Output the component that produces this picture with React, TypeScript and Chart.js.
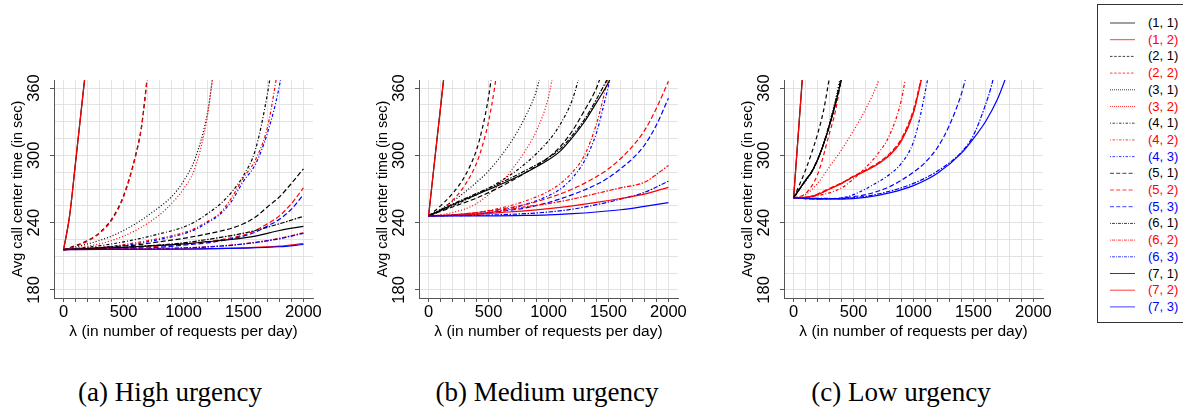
import React, { useEffect, useRef } from 'react';
import { Chart, registerables } from 'chart.js';

Chart.register(...registerables);
Chart.defaults.font.family = '"Liberation Sans", Arial, sans-serif';

// ---- labels / ticks ----
const SERIES_LABELS = ['(1, 1)', '(1, 2)', '(2, 1)', '(2, 2)', '(3, 1)', '(3, 2)', '(4, 1)', '(4, 2)', '(4, 3)', '(5, 1)', '(5, 2)', '(5, 3)', '(6, 1)', '(6, 2)', '(6, 3)', '(7, 1)', '(7, 2)', '(7, 3)'];
const SERIES_LTY = [1, 1, 2, 2, 3, 3, 4, 4, 4, 5, 5, 5, 6, 6, 6, 1, 1, 1];
const SERIES_COL = [1, 2, 1, 2, 1, 2, 1, 2, 3, 1, 2, 3, 1, 2, 3, 1, 2, 3];
const Y_TICKS = [180, 240, 300, 360];
const X_LABEL_STEP = 500;
const CAPTIONS = ['(a) High urgency', '(b) Medium urgency', '(c) Low urgency'];
const X_TITLE = 'λ (in number of requests per day)';
const Y_TITLE = 'Avg call center time (in sec)';

// ---- (a) High urgency: [lambda, seconds] ----
const HIGH_1_1 = [[0, 216], [50, 246], [100, 294], [150, 343], [200, 392]];
const HIGH_1_2 = [[0, 216], [50, 246], [100, 294], [150, 343], [200, 392]];
const HIGH_2_1 = [[0, 216], [100, 219.5], [200, 224], [300, 231], [400, 243], [500, 264], [600, 300], [650, 326], [700, 372]];
const HIGH_2_2 = [[0, 216], [100, 219], [200, 223.5], [300, 230.5], [400, 242], [500, 263], [600, 299], [650, 325], [700, 371]];
const HIGH_3_1 = [[0, 216], [200, 221], [400, 228], [600, 239], [800, 254], [900, 263], [1000, 277], [1100, 298], [1200, 338], [1250, 375]];
const HIGH_3_2 = [[0, 216], [200, 219], [400, 224], [600, 233], [800, 247], [900, 257], [1000, 270], [1100, 290], [1200, 335], [1250, 375]];
const HIGH_4_1 = [[0, 216], [200, 218], [400, 221], [600, 225], [800, 230], [1000, 236], [1100, 241], [1200, 248], [1300, 256], [1400, 267], [1500, 282], [1600, 305], [1700, 355], [1750, 390]];
const HIGH_4_2 = [[0, 216], [200, 217], [400, 219], [600, 222], [800, 226], [1000, 231], [1100, 235], [1200, 241], [1300, 248], [1400, 262], [1500, 280], [1600, 296], [1700, 325], [1800, 385]];
const HIGH_4_3 = [[0, 216], [200, 217], [400, 218.5], [600, 221], [800, 225], [1000, 230], [1100, 234], [1200, 240], [1300, 247], [1400, 259], [1500, 277], [1600, 292], [1700, 320], [1800, 362], [1850, 395]];
const HIGH_5_1 = [[0, 216], [200, 217], [400, 218.5], [600, 220], [800, 223], [1000, 226], [1200, 230], [1400, 235], [1500, 239], [1600, 245], [1700, 254], [1800, 263], [1900, 275], [2000, 288]];
const HIGH_5_2 = [[0, 216], [400, 217], [800, 219], [1000, 221], [1200, 223], [1400, 226.5], [1500, 229], [1600, 233], [1700, 239], [1800, 246], [1900, 257], [2000, 271]];
const HIGH_5_3 = [[0, 216], [400, 216.5], [800, 218], [1000, 220], [1200, 222], [1400, 225.5], [1500, 228], [1600, 231.5], [1700, 237], [1800, 243], [1900, 252], [2000, 265]];
const HIGH_6_1 = [[0, 216], [500, 218], [1000, 222], [1200, 225], [1400, 228.5], [1600, 233], [1800, 239], [2000, 245.6]];
const HIGH_6_2 = [[0, 216], [1000, 217.5], [1200, 218.5], [1400, 220], [1600, 222.5], [1800, 226], [2000, 231]];
const HIGH_6_3 = [[0, 216], [1000, 217.3], [1200, 218.3], [1400, 219.8], [1600, 222.2], [1800, 225.6], [2000, 230.5]];
const HIGH_7_1 = [[0, 216], [500, 218], [1000, 221], [1200, 223], [1400, 225], [1600, 228], [1800, 233], [2000, 236.7]];
const HIGH_7_2 = [[0, 216], [1000, 216.5], [1500, 217.5], [1800, 219], [2000, 221.3]];
const HIGH_7_3 = [[0, 216], [1000, 216.3], [1500, 217.2], [1800, 218.5], [2000, 220.5]];

// ---- (b) Medium urgency ----
const MED_1_1 = [[0, 246], [50, 295], [100, 343], [150, 392]];
const MED_1_2 = [[0, 246], [50, 295], [100, 343], [150, 392]];
const MED_2_1 = [[0, 246], [100, 255], [200, 266], [300, 281], [400, 305], [450, 325], [500, 352], [550, 390]];
const MED_2_2 = [[0, 246], [100, 251], [200, 260], [300, 273], [400, 293], [450, 309], [500, 330], [550, 360], [600, 400]];
const MED_3_1 = [[0, 246], [100, 252], [200, 259], [300, 267], [400, 276], [500, 286], [600, 299], [700, 314], [800, 333], [900, 358], [950, 380]];
const MED_3_2 = [[0, 246], [100, 247], [200, 249], [300, 252], [400, 257], [500, 265], [600, 275], [700, 288], [800, 303], [900, 322], [1000, 352], [1050, 380]];
const MED_4_1 = [[0, 246], [200, 255], [400, 265], [600, 277], [800, 292], [1000, 313], [1100, 328], [1200, 350], [1250, 368], [1300, 390]];
const MED_4_2 = [[0, 246], [200, 247], [400, 249], [600, 253], [800, 259], [1000, 268], [1100, 275], [1200, 285], [1300, 300], [1400, 328], [1450, 348], [1500, 372]];
const MED_4_3 = [[0, 246], [200, 246.5], [400, 248], [600, 251], [800, 256], [1000, 264], [1100, 270], [1200, 280], [1300, 295], [1400, 320], [1450, 340], [1500, 362], [1550, 385]];
const MED_5_1 = [[0, 246], [200, 254], [400, 262], [600, 272], [800, 284], [1000, 298], [1100, 308], [1200, 322], [1300, 340], [1400, 360], [1450, 375]];
const MED_5_2 = [[0, 246], [200, 247], [400, 249], [600, 252], [800, 256], [1000, 262], [1200, 270], [1400, 281], [1500, 288], [1600, 297], [1700, 308], [1800, 322], [1900, 342], [2000, 366]];
const MED_5_3 = [[0, 246], [400, 247.5], [600, 250], [800, 253], [1000, 258], [1200, 265], [1400, 274], [1500, 280], [1600, 288], [1700, 297], [1800, 309], [1900, 327], [2000, 351]];
const MED_6_1 = [[0, 246], [200, 256.5], [400, 266], [600, 275.5], [800, 286], [1000, 298], [1100, 306], [1200, 318], [1300, 332], [1400, 350], [1500, 370]];
const MED_6_2 = [[0, 246], [200, 246.5], [400, 248], [600, 250.5], [800, 254], [1000, 257], [1200, 261], [1400, 266], [1600, 271], [1800, 276], [1900, 283], [2000, 291]];
const MED_6_3 = [[0, 246], [400, 246.5], [800, 248], [1000, 249.5], [1200, 252], [1400, 256], [1600, 261], [1800, 267], [2000, 277]];
const MED_7_1 = [[0, 246], [200, 256], [400, 265], [600, 274], [800, 284], [1000, 296], [1100, 304], [1200, 316], [1300, 330], [1400, 347], [1500, 365], [1550, 377]];
const MED_7_2 = [[0, 246], [200, 246.5], [400, 247.5], [600, 249], [800, 250.5], [1000, 252.5], [1200, 255], [1400, 258], [1600, 261.5], [1800, 265.5], [2000, 271.5]];
const MED_7_3 = [[0, 246], [400, 246], [800, 246.5], [1000, 247], [1200, 248], [1400, 249.5], [1600, 251.5], [1800, 254.5], [2000, 257.8]];

// ---- (c) Low urgency ----
const LOW_1_1 = [[0, 262], [50, 335], [100, 408]];
const LOW_1_2 = [[0, 262], [50, 335], [100, 408]];
const LOW_2_1 = [[0, 262], [50, 274], [100, 287], [150, 302], [200, 319], [250, 340], [300, 370]];
const LOW_2_2 = [[0, 262], [100, 266], [200, 283], [300, 320], [350, 340], [400, 370]];
const LOW_3_1 = [[0, 262], [50, 270], [100, 277], [150, 285], [200, 296], [250, 311], [300, 329], [350, 350], [400, 375]];
const LOW_3_2 = [[0, 262], [100, 265], [200, 275], [300, 290], [400, 305], [500, 322], [600, 341], [700, 364], [750, 380]];
const LOW_4_1 = [[0, 262], [50, 270], [100, 277.5], [150, 285], [200, 296], [250, 310.5], [300, 328], [350, 348], [400, 371]];
const LOW_4_2 = [[0, 262], [200, 264], [400, 271], [500, 279], [600, 289], [700, 301], [800, 318], [900, 350], [950, 380]];
const LOW_4_3 = [[0, 262], [200, 261], [400, 262], [500, 265], [600, 270], [700, 276], [800, 283], [900, 293], [1000, 312], [1050, 332], [1100, 358], [1150, 385]];
const LOW_5_1 = [[0, 262], [50, 270], [100, 278], [150, 285.5], [200, 296.5], [250, 310], [300, 327.5], [350, 347], [400, 369]];
const LOW_5_2 = [[0, 262], [100, 262.5], [200, 265.5], [300, 270.5], [400, 275.5], [500, 281.5], [600, 287], [700, 293], [800, 301.5], [900, 315], [1000, 341], [1050, 362], [1100, 387]];
const LOW_5_3 = [[0, 262], [200, 261], [400, 262], [600, 265], [800, 272], [1000, 285], [1100, 294], [1200, 307], [1300, 327], [1400, 355], [1450, 375]];
const LOW_6_1 = [[0, 262], [50, 270], [100, 278], [150, 285], [200, 296], [250, 310], [300, 327], [350, 346.5], [400, 368.5]];
const LOW_6_2 = [[0, 262], [100, 262.5], [200, 265], [300, 270], [400, 275], [500, 281], [600, 286.5], [700, 292.5], [800, 300.5], [900, 314], [1000, 339], [1050, 361], [1100, 386]];
const LOW_6_3 = [[0, 262], [400, 261.5], [600, 263.5], [800, 268], [1000, 275], [1200, 286], [1400, 303], [1500, 318], [1600, 345], [1650, 362], [1700, 385]];
const LOW_7_1 = [[0, 262], [50, 270], [100, 278], [150, 285], [200, 296], [250, 310], [300, 327], [350, 346], [400, 368]];
const LOW_7_2 = [[0, 262], [100, 262.5], [200, 265], [300, 270], [400, 275], [500, 281], [600, 286], [700, 292], [800, 300], [900, 313], [1000, 338], [1050, 360], [1100, 385]];
const LOW_7_3 = [[0, 262], [400, 261], [600, 262.5], [800, 266.5], [1000, 273], [1200, 284], [1400, 302], [1500, 315], [1600, 330], [1700, 350], [1800, 378]];

const HIGH = [HIGH_1_1, HIGH_1_2, HIGH_2_1, HIGH_2_2, HIGH_3_1, HIGH_3_2, HIGH_4_1, HIGH_4_2, HIGH_4_3, HIGH_5_1, HIGH_5_2, HIGH_5_3, HIGH_6_1, HIGH_6_2, HIGH_6_3, HIGH_7_1, HIGH_7_2, HIGH_7_3];
const MED = [MED_1_1, MED_1_2, MED_2_1, MED_2_2, MED_3_1, MED_3_2, MED_4_1, MED_4_2, MED_4_3, MED_5_1, MED_5_2, MED_5_3, MED_6_1, MED_6_2, MED_6_3, MED_7_1, MED_7_2, MED_7_3];
const LOW = [LOW_1_1, LOW_1_2, LOW_2_1, LOW_2_2, LOW_3_1, LOW_3_2, LOW_4_1, LOW_4_2, LOW_4_3, LOW_5_1, LOW_5_2, LOW_5_3, LOW_6_1, LOW_6_2, LOW_6_3, LOW_7_1, LOW_7_2, LOW_7_3];

// ---- styles ----
const COLORS: Record<number, string> = { 1: '#000000', 2: '#ff0000', 3: '#0000ff' };
const PLOT_DASH: Record<number, number[]> = { 1: [], 2: [4, 3], 3: [1, 2], 4: [1, 2, 3, 2], 5: [5, 2.5], 6: [1.5, 1.5, 4.5, 1.5] };
const LEGEND_DASH: Record<number, string> = { 1: '', 2: '2.5,1.7', 3: '1,1', 4: '1,1.5,2.5,1.5', 5: '4,2.2', 6: '1,1,3,1' };
const AXIS_COLOR = '#555555';
const GRID_COLOR = '#e3e3e3';

const rotatedYTicks = {
  id: 'rotatedYTicks',
  afterDraw(chart: any) {
    const { ctx, scales } = chart;
    const y = scales.y;
    ctx.save();
    ctx.font = '16.5px "Liberation Sans", Arial, sans-serif';
    ctx.fillStyle = '#000';
    ctx.textAlign = 'center';
    ctx.textBaseline = 'middle';
    Y_TICKS.forEach((v) => {
      const py = y.getPixelForValue(v);
      ctx.save();
      ctx.translate(34, py);
      ctx.rotate(-Math.PI / 2);
      ctx.fillText(String(v), 0, 0);
      ctx.restore();
    });
    ctx.restore();
  },
};

function Panel({ series, left }: { series: number[][][]; left: number }) {
  const ref = useRef<HTMLCanvasElement | null>(null);
  useEffect(() => {
    if (!ref.current) return;
    const n = series.length;
    const chart = new Chart(ref.current, {
      type: 'line',
      data: {
        datasets: series.map((pts, i) => ({
          label: SERIES_LABELS[i],
          data: pts.map((p) => ({ x: p[0], y: p[1] })),
          borderColor: COLORS[SERIES_COL[i]],
          borderWidth: 1.2,
          borderDash: PLOT_DASH[SERIES_LTY[i]],
          pointRadius: 0,
          fill: false,
          cubicInterpolationMode: 'monotone' as const,
          order: n - 1 - i,
        })),
      },
      options: {
        responsive: false,
        animation: false,
        events: [],
        layout: { padding: { left: 0, top: 20, right: 27, bottom: 0 } },
        plugins: { legend: { display: false }, tooltip: { enabled: false }, title: { display: false } },
        scales: {
          x: {
            type: 'linear',
            min: -80,
            max: 2080,
            afterFit: (s: any) => { s.height = 52; },
            border: { display: true, color: AXIS_COLOR, width: 1 },
            grid: { color: GRID_COLOR, lineWidth: 1, drawTicks: true, tickLength: 4, tickColor: AXIS_COLOR },
            ticks: {
              stepSize: 100,
              includeBounds: false,
              autoSkip: false,
              maxRotation: 0,
              minRotation: 0,
              padding: 1,
              color: '#000',
              font: { size: 16.5 },
              callback: (v: any) => (Number(v) % X_LABEL_STEP === 0 ? String(v) : ''),
            },
            title: { display: true, text: X_TITLE, color: '#000', font: { size: 15.5 }, padding: { top: 0, bottom: 9 } },
          },
          y: {
            type: 'linear',
            min: 172.8,
            max: 367.2,
            afterFit: (s: any) => { s.width = 54; },
            border: { display: true, color: AXIS_COLOR, width: 1 },
            grid: {
              color: GRID_COLOR,
              lineWidth: 1,
              drawTicks: true,
              tickLength: 4,
              tickColor: (c: any) => (Y_TICKS.includes(c.tick && c.tick.value) ? AXIS_COLOR : 'rgba(0,0,0,0)'),
            },
            ticks: { stepSize: 15, includeBounds: false, display: false },
            title: { display: true, text: Y_TITLE, color: '#000', font: { size: 14.4 }, padding: { top: 9, bottom: 0 } },
          },
        },
      },
      plugins: [rotatedYTicks],
    } as any);
    return () => chart.destroy();
  }, [series]);
  return (
    <canvas
      ref={ref}
      width={340}
      height={290}
      style={{ position: 'absolute', left, top: 60, width: 340, height: 290 }}
    />
  );
}

function Legend() {
  const rowH = 16.7;
  const firstY = 22 - 4;
  return (
    <div
      style={{
        position: 'absolute', left: 1097, top: 4, width: 100, height: 319,
        border: '1px solid #333', boxSizing: 'border-box', background: '#fff',
      }}
    >
      <svg width={100} height={319} style={{ position: 'absolute', left: -1, top: -1 }}>
        {SERIES_LABELS.map((lab, i) => {
          const y = firstY + i * rowH + 1;
          return (
            <line
              key={lab}
              x1={13} x2={38} y1={y} y2={y}
              stroke={COLORS[SERIES_COL[i]]}
              strokeOpacity={0.75}
              strokeWidth={1}
              strokeDasharray={LEGEND_DASH[SERIES_LTY[i]] || undefined}
            />
          );
        })}
      </svg>
      {SERIES_LABELS.map((lab, i) => (
        <div
          key={lab}
          style={{
            position: 'absolute', left: 50, top: firstY + i * rowH - 8, height: 16, lineHeight: '16px',
            fontFamily: '"Liberation Sans", Arial, sans-serif', fontSize: 13, color: COLORS[SERIES_COL[i]],
            whiteSpace: 'nowrap',
          }}
        >
          {lab}
        </div>
      ))}
    </div>
  );
}

const CAPTION_X = [170, 547, 901];

export default function App() {
  return (
    <div style={{ position: 'absolute', left: 0, top: 0, width: 1183, height: 408, background: '#fff', overflow: 'hidden' }}>
      <Panel series={HIGH} left={0} />
      <Panel series={MED} left={365} />
      <Panel series={LOW} left={730} />
      <Legend />
      {CAPTIONS.map((c, i) => (
        <div
          key={c}
          style={{
            position: 'absolute', left: CAPTION_X[i], top: 377, transform: 'translateX(-50%)',
            fontFamily: '"Liberation Serif", "Times New Roman", serif', fontSize: 27, lineHeight: '30px',
            color: '#000', whiteSpace: 'nowrap',
          }}
        >
          {c}
        </div>
      ))}
    </div>
  );
}
